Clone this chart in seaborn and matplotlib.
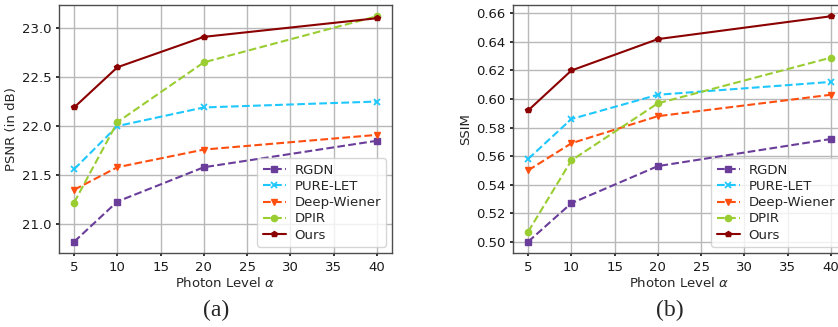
import matplotlib
matplotlib.use("Agg")
import matplotlib.pyplot as plt
import numpy as np
import pandas as pd
import seaborn as sns

photon = [5, 10, 20, 40]
methods = ["RGDN", "PURE-LET", "Deep-Wiener", "DPIR", "Ours"]

psnr_rgdn = [20.82, 21.23, 21.58, 21.85]
psnr_pure = [21.56, 22.00, 22.19, 22.25]
psnr_wiener = [21.35, 21.58, 21.76, 21.91]
psnr_dpir = [21.22, 22.04, 22.65, 23.12]
psnr_ours = [22.19, 22.60, 22.91, 23.10]

ssim_rgdn = [0.500, 0.527, 0.553, 0.572]
ssim_pure = [0.558, 0.586, 0.603, 0.612]
ssim_wiener = [0.550, 0.569, 0.588, 0.603]
ssim_dpir = [0.507, 0.557, 0.597, 0.629]
ssim_ours = [0.592, 0.620, 0.642, 0.658]

colors = {"RGDN": "#6a3d9a", "PURE-LET": "#1ec8ff", "Deep-Wiener": "#ff4f10",
          "DPIR": "#9acd32", "Ours": "#8b0000"}
markers = {"RGDN": "s", "PURE-LET": "x", "Deep-Wiener": "v", "DPIR": "o", "Ours": "p"}
msizes = {"RGDN": 4.5, "PURE-LET": 4.5, "Deep-Wiener": 4.5, "DPIR": 4.5, "Ours": 4}
styles = {"RGDN": "--", "PURE-LET": "--", "Deep-Wiener": "--", "DPIR": "--", "Ours": "-"}

psnr = pd.DataFrame({"alpha": photon, "RGDN": psnr_rgdn, "PURE-LET": psnr_pure,
                     "Deep-Wiener": psnr_wiener, "DPIR": psnr_dpir, "Ours": psnr_ours})
ssim = pd.DataFrame({"alpha": photon, "RGDN": ssim_rgdn, "PURE-LET": ssim_pure,
                     "Deep-Wiener": ssim_wiener, "DPIR": ssim_dpir, "Ours": ssim_ours})

sns.set_theme(style="whitegrid", rc={
    "axes.edgecolor": "0.3", "axes.linewidth": 1.0,
    "grid.color": "0.72", "grid.linewidth": 1.0,
    "xtick.bottom": True, "ytick.left": True,
    "xtick.major.size": 2.5, "ytick.major.size": 2.5,
    "xtick.major.pad": 3, "ytick.major.pad": 3,
    "xtick.color": "0.1", "ytick.color": "0.1",
    "font.size": 9.5, "axes.labelsize": 9.5,
    "xtick.labelsize": 9.5, "ytick.labelsize": 9.5, "legend.fontsize": 9.5,
})
plt.rcParams["font.family"] = ["DejaVu Sans"]

fig = plt.figure(figsize=(8.38, 3.27), dpi=100)
ax1 = fig.add_axes([59 / 838, 74 / 327, 333 / 838, 248 / 327])
ax2 = fig.add_axes([513 / 838, 74 / 327, 333 / 838, 248 / 327])

for ax, df, ylab in [(ax1, psnr, "PSNR (in dB)"), (ax2, ssim, "SSIM")]:
    for m in methods:
        sns.lineplot(data=df, x="alpha", y=m, ax=ax, color=colors[m], marker=markers[m],
                     linestyle=styles[m], linewidth=1.5, markersize=msizes[m],
                     markeredgewidth=1.0 if m != "PURE-LET" else 1.3,
                     markeredgecolor=colors[m], label=m)
    ax.set_xticks([5, 10, 15, 20, 25, 30, 35, 40])
    ax.set_xlabel(r"Photon Level $\alpha$", labelpad=2)
    ax.set_ylabel(ylab, labelpad=3)
    ax.legend(loc="lower right", handlelength=1.8, handletextpad=0.6,
              borderpad=0.4, labelspacing=0.25, borderaxespad=0.45)
    for s in ax.spines.values():
        s.set_color("0.3")

ax1.set_yticks([21.0, 21.5, 22.0, 22.5, 23.0])
ax1.yaxis.set_major_formatter(matplotlib.ticker.FormatStrFormatter("%.1f"))
ax2.set_yticks(np.arange(0.50, 0.661, 0.02))
ax2.yaxis.set_major_formatter(matplotlib.ticker.FormatStrFormatter("%.2f"))

fig.text(216 / 838, 1 - 310 / 327, "(a)", family="Liberation Serif", fontsize=17,
         ha="center", va="center")
fig.text(670 / 838, 1 - 310 / 327, "(b)", family="Liberation Serif", fontsize=17,
         ha="center", va="center")

fig.savefig("out.png", dpi=100)
